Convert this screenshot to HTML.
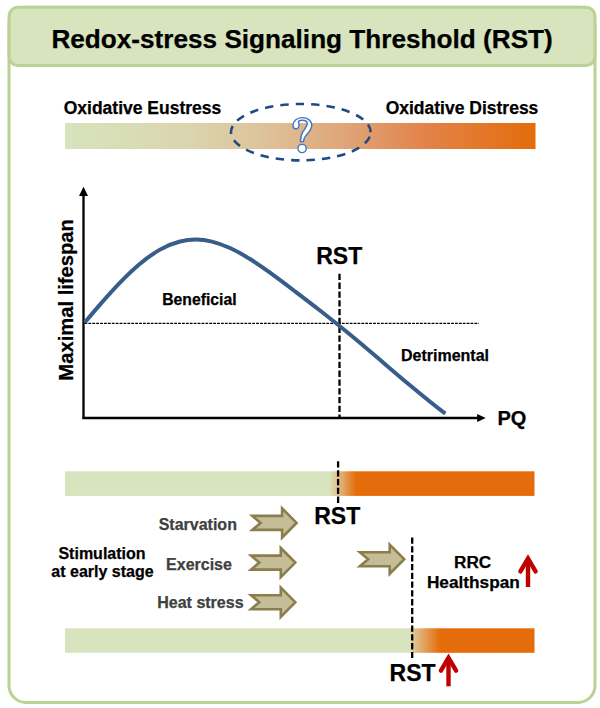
<!DOCTYPE html>
<html><head><meta charset="utf-8">
<style>
html,body{margin:0;padding:0;background:#fff;width:600px;height:708px;overflow:hidden}
svg{display:block}
text{font-family:"Liberation Sans",sans-serif;font-weight:bold;fill:#000;stroke:#000;stroke-width:0.25px}
text.g{fill:#404040;stroke:#404040}
</style></head>
<body>
<svg width="600" height="708" viewBox="0 0 600 708">
<defs>
<linearGradient id="g1" x1="65" y1="0" x2="535.5" y2="0" gradientUnits="userSpaceOnUse">
<stop offset="0" stop-color="#D7E4BD"/>
<stop offset="0.25" stop-color="#DAD6AF"/>
<stop offset="0.42" stop-color="#DDC39B"/>
<stop offset="0.59" stop-color="#DFA679"/>
<stop offset="0.76" stop-color="#E2844B"/>
<stop offset="1" stop-color="#E46C0A"/>
</linearGradient>
<linearGradient id="g2" x1="65" y1="0" x2="534.5" y2="0" gradientUnits="userSpaceOnUse">
<stop offset="0" stop-color="#D7E4BD"/>
<stop offset="0.5623" stop-color="#D7E4BD"/>
<stop offset="0.5793" stop-color="#E0C393"/>
<stop offset="0.6198" stop-color="#E46C0A"/>
<stop offset="1" stop-color="#E46C0A"/>
</linearGradient>
<linearGradient id="g3" x1="65" y1="0" x2="534.5" y2="0" gradientUnits="userSpaceOnUse">
<stop offset="0" stop-color="#D7E4BD"/>
<stop offset="0.7338" stop-color="#D7E4BD"/>
<stop offset="0.7434" stop-color="#E0C595"/>
<stop offset="0.7987" stop-color="#E46C0A"/>
<stop offset="1" stop-color="#E46C0A"/>
</linearGradient>
<path id="chev" d="M-44.3,-7 L-14.5,-7 L-14.5,-14.6 L0,0 L-14.5,14.6 L-14.5,7 L-44.3,7 L-36,0 Z" fill="#C4BD97" stroke="#8A7E4C" stroke-width="2.6" stroke-linejoin="miter"/>
<g id="redup">
<path d="M0,5 L0,34" stroke="#C00000" stroke-width="4.4" fill="none"/>
<path d="M-7.6,18.4 L0,5.6 L7.6,18.4" stroke="#C00000" stroke-width="4.4" fill="none" stroke-linecap="round" stroke-linejoin="miter"/>
</g>
</defs>

<!-- outer frame -->
<rect x="9" y="7.2" width="586" height="695.3" rx="17" ry="17" fill="#fff" stroke="#BCD294" stroke-width="3"/>
<!-- header -->
<rect x="9" y="7.2" width="586" height="58.3" rx="9" ry="9" fill="#D7E4BD" stroke="#BCD294" stroke-width="3"/>
<text x="302.1" y="47.8" font-size="26.17" text-anchor="middle">Redox-stress Signaling Threshold (RST)</text>

<!-- top bar -->
<text x="142.5" y="114" font-size="17.5" text-anchor="middle">Oxidative Eustress</text>
<text x="462" y="114" font-size="17.5" text-anchor="middle">Oxidative Distress</text>
<rect x="65" y="123" width="470.5" height="26" fill="url(#g1)"/>
<ellipse cx="300.8" cy="132.2" rx="69.8" ry="28.2" fill="none" stroke="#1F4B82" stroke-width="2.6" stroke-dasharray="8.4 7.03" stroke-dashoffset="10.9"/>
<path d="M293,125.6 C293,121.5 296.5,117.6 302.2,117.6 C308,117.6 311.8,121 311.8,125.3 C311.8,130 307.5,133.5 305,136.8 C303.8,138.5 303.5,140 303.5,141.6 L300.5,141.6 C300.5,138.7 300.9,134.8 303,131.6 C305.2,128.4 307.3,126.3 307.3,123.6 C307.3,121.3 305,120.3 302.4,120.3 C300.4,120.3 298.6,121 298.4,122 C298.8,122.8 299,123.8 299,125.3 C299,127.2 297.6,128.8 295.9,128.8 C294.3,128.8 293,127.4 293,125.6 Z" fill="#fff" stroke="#3F74C6" stroke-width="1.4"/>
<circle cx="302.1" cy="148.5" r="4.1" fill="#fff" stroke="#3F74C6" stroke-width="1.4"/>

<!-- chart -->
<path d="M83.5,418 L83.5,195" stroke="#000" stroke-width="2.3" fill="none"/>
<path d="M79,196 L83.5,186.7 L88,196 Z" fill="#000"/>
<path d="M82.3,418 L478,418" stroke="#000" stroke-width="2.3" fill="none"/>
<path d="M477.2,414 L485.7,418 L477.2,422 Z" fill="#000"/>
<text transform="translate(72.5,299.85) rotate(-90)" x="0" y="0" font-size="20.2" text-anchor="middle">Maximal lifespan</text>
<path d="M84.5,323.3 L479,323.3" stroke="#000" stroke-width="1.2" stroke-dasharray="2.8 1.1" fill="none"/>
<path d="M339.5,273.8 L339.5,418" stroke="#000" stroke-width="2.3" stroke-dasharray="6.3 2.5" fill="none"/>
<path d="M84.8,322.42 C89.87,316.44 94.93,310.47 100.0,304.65 C106.67,296.98 113.33,289.56 120.0,282.65 C126.67,275.74 133.33,269.36 140.0,263.76 C146.67,258.17 153.33,253.38 160.0,249.63 C166.67,245.89 173.33,243.16 180.0,241.48 C185.33,240.14 190.67,239.48 196.0,239.51 C201.33,239.55 206.67,240.28 212.0,241.59 C218.00,243.07 224.00,245.27 230.0,248.03 C236.67,251.09 243.33,254.84 250.0,259.03 C256.67,263.22 263.33,267.86 270.0,272.70 C278.33,278.75 286.67,285.07 295.0,291.37 C303.33,297.68 311.67,304.04 320.0,310.53 C330.00,318.31 340.00,326.27 350.0,334.51 C360.00,342.75 370.00,351.26 380.0,359.81 C390.00,368.36 400.00,376.95 410.0,385.33 C421.77,395.20 433.53,404.78 445.3,413.69" stroke="#385D8A" stroke-width="4" fill="none"/>
<text x="339.2" y="264.2" font-size="23" text-anchor="middle">RST</text>
<text x="511.9" y="424.6" font-size="20" text-anchor="middle">PQ</text>
<text x="199.4" y="304.5" font-size="15.75" text-anchor="middle">Beneficial</text>
<text x="445" y="360.8" font-size="16" text-anchor="middle">Detrimental</text>

<!-- bar 2 -->
<rect x="65" y="471.3" width="469.5" height="24.6" fill="url(#g2)"/>
<path d="M338.1,461.3 L338.1,503" stroke="#000" stroke-width="2.3" stroke-dasharray="6.3 2.53" fill="none"/>
<text x="337.2" y="524.1" font-size="23" text-anchor="middle">RST</text>

<text class="g" x="197.8" y="530" font-size="16" text-anchor="middle">Starvation</text>
<text class="g" x="199" y="569.7" font-size="16" text-anchor="middle">Exercise</text>
<text class="g" x="200.4" y="608.3" font-size="16" text-anchor="middle">Heat stress</text>
<text x="102" y="558.6" font-size="16" text-anchor="middle">Stimulation</text>
<text x="102.5" y="577" font-size="16" text-anchor="middle">at early stage</text>

<use href="#chev" transform="translate(296.6,522.9)"/>
<use href="#chev" transform="translate(295.3,562.6)"/>
<use href="#chev" transform="translate(295.3,602.2)"/>
<use href="#chev" transform="translate(404.2,559.2)"/>

<text x="472.6" y="567.7" font-size="17.2" text-anchor="middle">RRC</text>
<text x="473.4" y="588.1" font-size="17.25" text-anchor="middle">Healthspan</text>
<use href="#redup" transform="translate(528,553)"/>

<!-- bar 3 -->
<rect x="65" y="628.3" width="469.5" height="24.5" fill="url(#g3)"/>
<path d="M412.2,537.5 L412.2,658" stroke="#000" stroke-width="2.3" stroke-dasharray="6.3 2.5" fill="none"/>
<text x="412.6" y="681.4" font-size="23" text-anchor="middle">RST</text>
<use href="#redup" transform="translate(448.5,652.3)"/>
</svg>
</body></html>
